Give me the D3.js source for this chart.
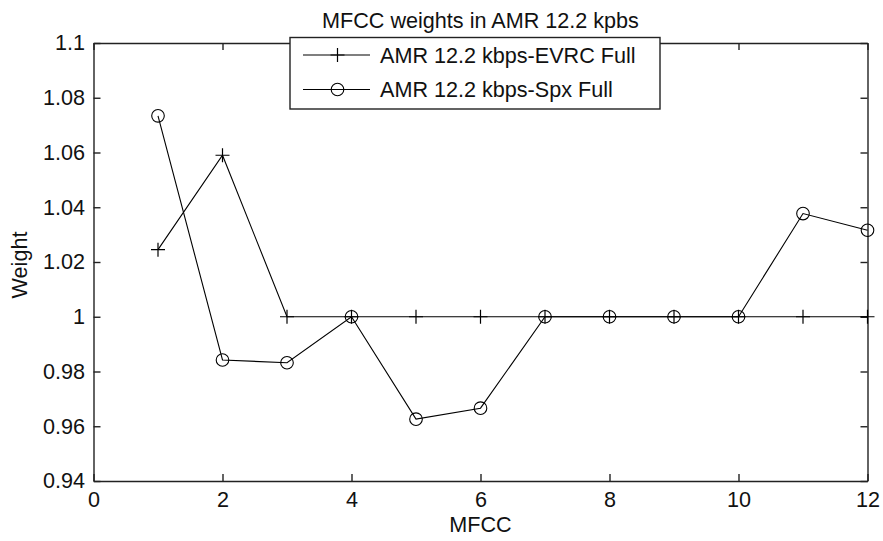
<!DOCTYPE html>
<html>
<head>
<meta charset="utf-8">
<script src="https://cdn.jsdelivr.net/npm/d3@7"></script>
<style>
  html, body { margin: 0; padding: 0; background: #fff; }
  svg { display: block; }
  text { font-family: "Liberation Sans", Arial, Helvetica, sans-serif; fill: #111; }
</style>
</head>
<body>
<svg id="chart" width="883" height="541"></svg>
<script>
// ---- data ----
const mfcc = [1, 2, 3, 4, 5, 6, 7, 8, 9, 10, 11, 12];
const evrcFull = [1.0245, 1.059, 1, 1, 1, 1, 1, 1, 1, 1, 1, 1];
const spxFull = [1.0734, 0.9842, 0.9832, 1.0, 0.9626, 0.9666, 1, 1, 1, 1, 1.0377, 1.0316];
const xTicks = [0, 2, 4, 6, 8, 10, 12];
const yTicks = [0.94, 0.96, 0.98, 1, 1.02, 1.04, 1.06, 1.08, 1.1];
const seriesNames = ["AMR 12.2 kbps-EVRC Full", "AMR 12.2 kbps-Spx Full"];
const titleText = "MFCC weights in AMR 12.2 kpbs";
const xLabel = "MFCC";
const yLabel = "Weight";

// ---- layout ----
const L = 93.5, R = 867.5, T = 43, B = 481;
const FS = 21.6;
const svg = d3.select("#chart");

const x = d3.scaleLinear().domain([0, 12]).range([L, R]);
const y = d3.scaleLinear().domain([0.94, 1.1]).range([B, T]);

const axisColor = "#222";
const tick = 7;

function styleAxis(g) {
  g.selectAll("path.domain").attr("stroke", axisColor).attr("stroke-width", 1.4);
  g.selectAll(".tick line").attr("stroke", axisColor).attr("stroke-width", 1.4);
  g.selectAll("text").attr("font-size", FS).attr("fill", "#111")
    .attr("font-family", '"Liberation Sans", Arial, sans-serif');
}

const fmt = d => String(+d.toFixed(2));

// bottom
svg.append("g").attr("transform", `translate(0,${B})`)
  .call(d3.axisBottom(x).tickValues(xTicks).tickSizeInner(-tick).tickSizeOuter(0).tickPadding(11).tickFormat(fmt))
  .call(styleAxis);
// top
svg.append("g").attr("transform", `translate(0,${T})`)
  .call(d3.axisTop(x).tickValues(xTicks).tickSizeInner(-tick).tickSizeOuter(0).tickFormat(""))
  .call(styleAxis);
// left
svg.append("g").attr("transform", `translate(${L},0)`)
  .call(d3.axisLeft(y).tickValues(yTicks).tickSizeInner(-tick).tickSizeOuter(0).tickPadding(8.5).tickFormat(fmt))
  .call(styleAxis);
// right
svg.append("g").attr("transform", `translate(${R},0)`)
  .call(d3.axisRight(y).tickValues(yTicks).tickSizeInner(-tick).tickSizeOuter(0).tickFormat(""))
  .call(styleAxis);

// ---- lines ----
const line = d3.line().x(d => x(d[0])).y(d => y(d[1]));
const evrcPts = mfcc.map((m, i) => [m, evrcFull[i]]);
const spxPts = mfcc.map((m, i) => [m, spxFull[i]]);

svg.append("path").datum(evrcPts).attr("d", line)
  .attr("fill", "none").attr("stroke", "#000").attr("stroke-width", 1.1);
svg.append("path").datum(spxPts).attr("d", line)
  .attr("fill", "none").attr("stroke", "#000").attr("stroke-width", 1.1);

const plusR = 7, circR = 6.3;
function plus(g, cx, cy) {
  g.append("path").attr("d", `M${cx - plusR},${cy}H${cx + plusR}M${cx},${cy - plusR}V${cy + plusR}`)
    .attr("stroke", "#000").attr("stroke-width", 1.2).attr("fill", "none");
}
function circ(g, cx, cy) {
  g.append("circle").attr("cx", cx).attr("cy", cy).attr("r", circR)
    .attr("stroke", "#000").attr("stroke-width", 1.1).attr("fill", "none");
}
const mk = svg.append("g");
evrcPts.forEach(p => plus(mk, x(p[0]), y(p[1])));
spxPts.forEach(p => circ(mk, x(p[0]), y(p[1])));

// ---- title & labels ----
svg.append("text").attr("x", (L + R) / 2).attr("y", 28).attr("text-anchor", "middle")
  .attr("font-size", FS).text(titleText);
svg.append("text").attr("x", (L + R) / 2).attr("y", 532).attr("text-anchor", "middle")
  .attr("font-size", FS).text(xLabel);
svg.append("text").attr("transform", `translate(27,${(T + B) / 2 + 3}) rotate(-90)`)
  .attr("text-anchor", "middle").attr("font-size", FS).text(yLabel);

// ---- legend ----
const lg = svg.append("g");
const lx0 = 290, ly0 = 37.5, lx1 = 660, ly1 = 109;
lg.append("rect").attr("x", lx0).attr("y", ly0).attr("width", lx1 - lx0).attr("height", ly1 - ly0)
  .attr("fill", "#fff").attr("stroke", axisColor).attr("stroke-width", 1.4);
const rows = [55, 89.5];
seriesNames.forEach((name, i) => {
  const ry = rows[i];
  lg.append("line").attr("x1", 303).attr("x2", 370).attr("y1", ry).attr("y2", ry)
    .attr("stroke", "#000").attr("stroke-width", 1.2);
  if (i === 0) plus(lg, 337.5, ry); else circ(lg, 337.5, ry);
  lg.append("text").attr("x", 380).attr("y", ry).attr("dy", "0.36em")
    .attr("font-size", FS).text(name);
});
</script>
</body>
</html>
